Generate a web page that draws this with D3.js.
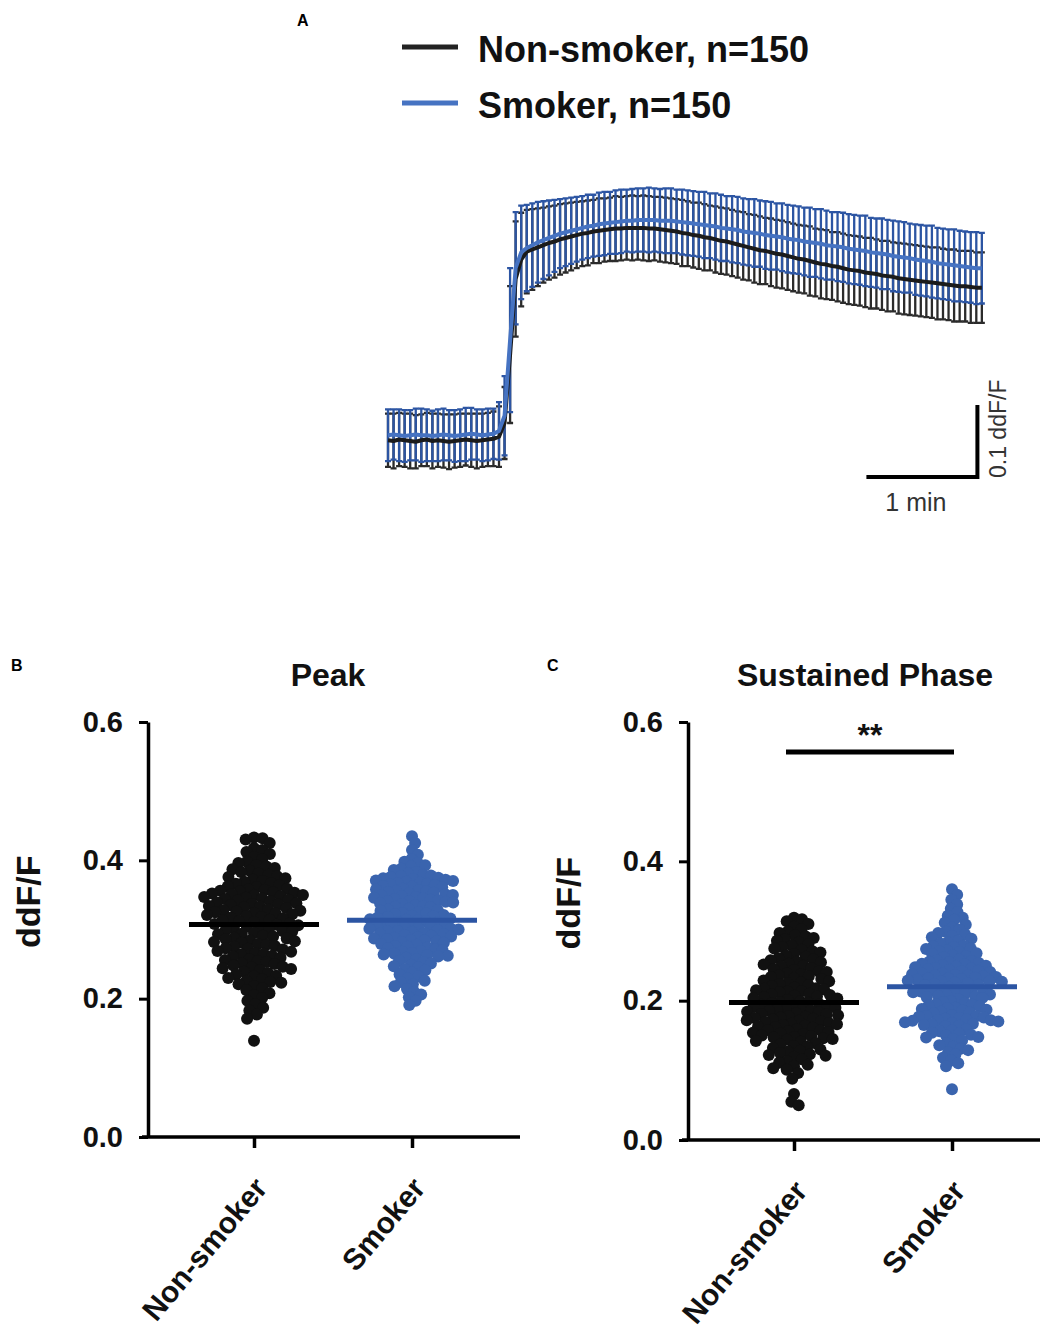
<!DOCTYPE html>
<html>
<head>
<meta charset="utf-8">
<script src="https://cdn.jsdelivr.net/npm/d3@7"></script>
<style>
  body { margin: 0; background: #fff; }
  svg { display: block; }
  text { font-family: "Liberation Sans", Arial, sans-serif; }
</style>
</head>
<body>
<svg id="chart" width="1048" height="1330"></svg>
<script>
// ---- data ----
const groups = ["Non-smoker", "Smoker"];
const seriesNames = ["Non-smoker, n=150", "Smoker, n=150"];
const frameSeconds = 3;
const yTicks = [0, 0.2, 0.4, 0.6];

const traceNonSmokerMean = [
  0.001, 0.000, 0.002, 0.001, 0.000, -0.001, 0.001, 0.002, 0.000, 0.001,
  0.000, -0.001, 0.000, 0.001, 0.002, 0.001, 0.000, 0.001, 0.002, 0.003,
  0.006,
  0.025, 0.120, 0.225, 0.252,
  0.263, 0.266, 0.269, 0.272, 0.275, 0.277, 0.280, 0.282, 0.284, 0.286,
  0.288, 0.289, 0.291, 0.292, 0.293, 0.294, 0.295, 0.295, 0.296, 0.296,
  0.296, 0.296, 0.295, 0.295, 0.294, 0.293, 0.292, 0.291, 0.289, 0.288,
  0.286, 0.285, 0.283, 0.282, 0.280, 0.278, 0.277, 0.275, 0.273, 0.271,
  0.269, 0.267, 0.265, 0.264, 0.262, 0.260, 0.259, 0.257, 0.255, 0.253,
  0.252, 0.250, 0.248, 0.246, 0.245, 0.243, 0.242, 0.240, 0.238, 0.237,
  0.236, 0.234, 0.233, 0.232, 0.230, 0.229, 0.228, 0.226, 0.225, 0.224,
  0.223, 0.222, 0.221, 0.220, 0.219, 0.218, 0.217, 0.216, 0.215, 0.215,
  0.214, 0.213, 0.213
];
const traceNonSmokerSem = [
  0.037, 0.038, 0.037, 0.037, 0.038, 0.037, 0.036, 0.037, 0.038, 0.037,
  0.037, 0.038, 0.037, 0.037, 0.036, 0.037, 0.038, 0.037, 0.037, 0.038,
  0.042,
  0.050, 0.095, 0.080, 0.065,
  0.058, 0.056, 0.054, 0.052, 0.051, 0.050, 0.049, 0.048, 0.047, 0.046,
  0.045, 0.045, 0.044, 0.045, 0.044, 0.044, 0.045, 0.044, 0.044, 0.045,
  0.044, 0.045, 0.045, 0.044, 0.045, 0.045, 0.045, 0.045, 0.046, 0.045,
  0.045, 0.046, 0.046, 0.045, 0.046, 0.046, 0.046, 0.046, 0.046, 0.047,
  0.046, 0.047, 0.047, 0.046, 0.047, 0.047, 0.047, 0.047, 0.047, 0.047,
  0.047, 0.048, 0.047, 0.048, 0.048, 0.047, 0.048, 0.048, 0.048, 0.048,
  0.048, 0.048, 0.049, 0.048, 0.048, 0.049, 0.048, 0.049, 0.049, 0.049,
  0.049, 0.049, 0.049, 0.049, 0.050, 0.049, 0.049, 0.050, 0.049, 0.049,
  0.050, 0.049, 0.049
];
const traceSmokerMean = [
  0.008, 0.009, 0.008, 0.007, 0.008, 0.009, 0.008, 0.008, 0.007, 0.008,
  0.009, 0.008, 0.007, 0.008, 0.009, 0.010, 0.009, 0.008, 0.009, 0.010,
  0.014,
  0.035, 0.140, 0.240, 0.262,
  0.268, 0.272, 0.276, 0.279, 0.282, 0.285, 0.288, 0.290, 0.292, 0.294,
  0.296, 0.298, 0.299, 0.301, 0.302, 0.303, 0.304, 0.305, 0.306, 0.306,
  0.307, 0.307, 0.307, 0.307, 0.306, 0.306, 0.306, 0.305, 0.304, 0.303,
  0.302, 0.301, 0.300, 0.299, 0.298, 0.296, 0.295, 0.294, 0.293, 0.291,
  0.290, 0.289, 0.288, 0.286, 0.285, 0.284, 0.283, 0.281, 0.280, 0.279,
  0.277, 0.276, 0.275, 0.274, 0.272, 0.271, 0.270, 0.269, 0.267, 0.266,
  0.265, 0.264, 0.262, 0.261, 0.260, 0.259, 0.257, 0.256, 0.255, 0.254,
  0.252, 0.251, 0.250, 0.249, 0.247, 0.246, 0.245, 0.244, 0.243, 0.242,
  0.241, 0.240, 0.240
];
const traceSmokerSem = [
  0.036, 0.035, 0.036, 0.036, 0.035, 0.036, 0.037, 0.036, 0.035, 0.036,
  0.036, 0.035, 0.036, 0.036, 0.037, 0.036, 0.035, 0.036, 0.036, 0.035,
  0.040,
  0.055, 0.100, 0.078, 0.065,
  0.060, 0.058, 0.056, 0.054, 0.052, 0.050, 0.048, 0.047, 0.046, 0.045,
  0.044, 0.044, 0.043, 0.044, 0.044, 0.043, 0.044, 0.044, 0.043, 0.044,
  0.044, 0.044, 0.045, 0.044, 0.044, 0.045, 0.045, 0.044, 0.045, 0.045,
  0.045, 0.045, 0.046, 0.045, 0.046, 0.046, 0.045, 0.046, 0.046, 0.046,
  0.046, 0.047, 0.046, 0.047, 0.047, 0.046, 0.047, 0.047, 0.047, 0.047,
  0.047, 0.048, 0.047, 0.048, 0.048, 0.047, 0.048, 0.048, 0.048, 0.048,
  0.048, 0.049, 0.048, 0.048, 0.049, 0.048, 0.049, 0.049, 0.049, 0.048,
  0.049, 0.049, 0.049, 0.050, 0.049, 0.049, 0.049, 0.050, 0.049, 0.049,
  0.049, 0.050, 0.049
];

const peakNonSmoker = [
  0.433, 0.432, 0.430, 0.425,
  0.418, 0.415, 0.412, 0.409, 0.405, 0.402,
  0.398, 0.396, 0.393, 0.391, 0.389, 0.387, 0.385, 0.383, 0.381,
  0.379, 0.377, 0.376, 0.374, 0.372, 0.370, 0.369, 0.367, 0.366, 0.364, 0.362, 0.361,
  0.359, 0.358, 0.357, 0.356, 0.355, 0.354, 0.353, 0.352, 0.351, 0.350, 0.349, 0.348, 0.347, 0.346, 0.345, 0.344, 0.343, 0.342, 0.341,
  0.339, 0.338, 0.337, 0.336, 0.335, 0.334, 0.333, 0.332, 0.331, 0.329, 0.328, 0.327, 0.326, 0.325, 0.324, 0.323, 0.322, 0.321,
  0.319, 0.318, 0.317, 0.316, 0.314, 0.313, 0.312, 0.311, 0.309, 0.308, 0.307, 0.306, 0.304, 0.303, 0.302, 0.301,
  0.299, 0.298, 0.297, 0.295, 0.294, 0.293, 0.291, 0.290, 0.288, 0.287, 0.286, 0.284, 0.283, 0.282, 0.281,
  0.279, 0.278, 0.276, 0.275, 0.273, 0.272, 0.271, 0.269, 0.268, 0.266, 0.265, 0.264, 0.262, 0.261,
  0.259, 0.257, 0.256, 0.254, 0.253, 0.251, 0.250, 0.248, 0.246, 0.245, 0.244, 0.243, 0.241,
  0.239, 0.237, 0.235, 0.233, 0.232, 0.230, 0.228, 0.226, 0.224, 0.223, 0.221,
  0.218, 0.215, 0.212, 0.208, 0.205, 0.201,
  0.197, 0.192, 0.187, 0.183,
  0.177, 0.171,
  0.139
];
const peakSmoker = [
  0.435, 0.425,
  0.415, 0.408, 0.402,
  0.398, 0.396, 0.393, 0.391, 0.388, 0.386, 0.383, 0.381,
  0.379, 0.378, 0.377, 0.376, 0.375, 0.374, 0.373, 0.372, 0.371, 0.370, 0.369, 0.368, 0.367, 0.366, 0.365, 0.364, 0.363, 0.362, 0.361,
  0.359, 0.358, 0.357, 0.356, 0.355, 0.354, 0.353, 0.352, 0.351, 0.350, 0.349, 0.348, 0.347, 0.346, 0.345, 0.344, 0.343, 0.342, 0.341, 0.341, 0.340,
  0.339, 0.338, 0.337, 0.335, 0.334, 0.333, 0.332, 0.330, 0.329, 0.328, 0.327, 0.325, 0.324, 0.323, 0.322, 0.321, 0.320,
  0.319, 0.318, 0.317, 0.316, 0.315, 0.314, 0.313, 0.312, 0.311, 0.310, 0.309, 0.308, 0.307, 0.306, 0.305, 0.304, 0.303, 0.302, 0.301, 0.301, 0.300,
  0.299, 0.298, 0.297, 0.296, 0.295, 0.294, 0.293, 0.292, 0.291, 0.290, 0.289, 0.288, 0.287, 0.286, 0.285, 0.284, 0.283, 0.282, 0.281,
  0.279, 0.278, 0.276, 0.275, 0.274, 0.273, 0.271, 0.270, 0.269, 0.268, 0.266, 0.265, 0.264, 0.263, 0.262, 0.261,
  0.259, 0.257, 0.255, 0.253, 0.251, 0.249, 0.247, 0.245, 0.243, 0.241,
  0.238, 0.235, 0.232, 0.229, 0.226, 0.224, 0.221,
  0.218, 0.214, 0.210, 0.206, 0.202,
  0.197, 0.191
];
const sustainedNonSmoker = [
  0.319, 0.317, 0.314, 0.310, 0.306, 0.302,
  0.299, 0.297, 0.294, 0.292, 0.290, 0.288, 0.286, 0.284, 0.281,
  0.279, 0.277, 0.275, 0.273, 0.271, 0.269, 0.267, 0.265, 0.263, 0.261,
  0.259, 0.258, 0.256, 0.255, 0.253, 0.252, 0.250, 0.249, 0.247, 0.245, 0.244, 0.242, 0.241,
  0.239, 0.238, 0.236, 0.235, 0.234, 0.232, 0.231, 0.229, 0.228, 0.226, 0.225, 0.224, 0.222, 0.221,
  0.219, 0.218, 0.217, 0.216, 0.215, 0.214, 0.213, 0.212, 0.210, 0.209, 0.208, 0.207, 0.206, 0.205, 0.204, 0.203, 0.201,
  0.199, 0.198, 0.197, 0.196, 0.195, 0.194, 0.193, 0.192, 0.191, 0.190, 0.189, 0.188, 0.187, 0.186, 0.185, 0.184, 0.183, 0.182, 0.181, 0.180,
  0.179, 0.178, 0.177, 0.176, 0.175, 0.174, 0.173, 0.172, 0.171, 0.170, 0.169, 0.168, 0.167, 0.166, 0.165, 0.164, 0.163, 0.162, 0.161,
  0.159, 0.158, 0.157, 0.156, 0.155, 0.154, 0.153, 0.152, 0.150, 0.149, 0.148, 0.147, 0.146, 0.145, 0.144, 0.142, 0.141,
  0.139, 0.137, 0.135, 0.134, 0.132, 0.130, 0.128, 0.127, 0.125, 0.123, 0.122, 0.121,
  0.119, 0.116, 0.113, 0.111, 0.108, 0.106, 0.103, 0.101,
  0.096, 0.088,
  0.066,
  0.055, 0.050
];
const sustainedSmoker = [
  0.360, 0.352, 0.345,
  0.338, 0.332, 0.327, 0.322,
  0.319, 0.316, 0.312, 0.309, 0.305, 0.302,
  0.299, 0.297, 0.295, 0.293, 0.291, 0.289, 0.286, 0.284, 0.282,
  0.279, 0.278, 0.277, 0.275, 0.274, 0.272, 0.271, 0.270, 0.268, 0.267, 0.265, 0.264, 0.262,
  0.259, 0.258, 0.257, 0.256, 0.255, 0.254, 0.253, 0.252, 0.251, 0.250, 0.249, 0.248, 0.247, 0.246, 0.245, 0.244, 0.243, 0.242, 0.241,
  0.239, 0.239, 0.238, 0.237, 0.236, 0.236, 0.235, 0.234, 0.233, 0.232, 0.232, 0.231, 0.230, 0.229, 0.228, 0.228, 0.227, 0.226, 0.225, 0.224, 0.223, 0.222,
  0.219, 0.218, 0.217, 0.216, 0.215, 0.214, 0.213, 0.212, 0.211, 0.210, 0.209, 0.208, 0.207, 0.206, 0.205, 0.204, 0.202,
  0.199, 0.198, 0.197, 0.195, 0.194, 0.193, 0.192, 0.190, 0.189, 0.188, 0.187, 0.186, 0.184, 0.183, 0.182,
  0.179, 0.178, 0.178, 0.177, 0.176, 0.175, 0.174, 0.173, 0.172, 0.172, 0.171, 0.170, 0.169, 0.168, 0.167, 0.166, 0.165, 0.164, 0.163,
  0.159, 0.157, 0.156, 0.154, 0.153, 0.151, 0.150, 0.148, 0.147, 0.145, 0.143,
  0.139, 0.136, 0.134, 0.131, 0.129, 0.126, 0.123,
  0.118, 0.114, 0.110, 0.106,
  0.073
];

// ---- colours ----
const black = "#111111";
const blueDot = "#3a64ae";
const blueBar = "#2c55a3";
const blueLine = "#4673c2";

const svg = d3.select("#chart");
const font = "'Liberation Sans', Arial, sans-serif";

// ================= Panel A: time course =================
const xA = d3.scaleLinear().domain([0, 1]).range([388, 499]);   // minutes
const yA = d3.scaleLinear().domain([0, 0.1]).range([441, 369]); // ddF/F

const traces = [
  { name: seriesNames[0], mean: traceNonSmokerMean, sem: traceNonSmokerSem, bar: "#2b2b2b", line: "#1b1b1b" },
  { name: seriesNames[1], mean: traceSmokerMean, sem: traceSmokerSem, bar: blueBar, line: blueLine }
];
traces.forEach(s => {
  s.points = s.mean.map((m, i) => ({ t: i * frameSeconds / 60, m, e: s.sem[i] }));
});

const gA = svg.append("g");
const cap = 3;

traces.forEach(s => {
  const bars = gA.append("g").attr("stroke", s.bar).attr("stroke-width", 2.3);
  bars.selectAll("path")
    .data(s.points)
    .enter()
    .append("path")
    .attr("fill", "none")
    .attr("d", d => {
      const x = xA(d.t), y1 = yA(d.m + d.e), y2 = yA(d.m - d.e);
      return `M${x},${y1}V${y2}M${x - cap},${y1}H${x + cap}M${x - cap},${y2}H${x + cap}`;
    });
});

const lineA = d3.line().x(d => xA(d.t)).y(d => yA(d.m));
traces.forEach(s => {
  gA.append("path")
    .datum(s.points)
    .attr("fill", "none")
    .attr("stroke", s.line)
    .attr("stroke-width", 4)
    .attr("stroke-linejoin", "round")
    .attr("d", lineA);
});

// legend
const legend = svg.append("g");
traces.forEach((s, i) => {
  const y = 47 + i * 56;
  legend.append("line")
    .attr("x1", 402).attr("x2", 458).attr("y1", y).attr("y2", y)
    .attr("stroke", i === 0 ? "#222" : blueLine).attr("stroke-width", 5);
  legend.append("text")
    .attr("x", 478).attr("y", y + 15)
    .attr("font-size", 36).attr("font-weight", "bold").attr("fill", "#111")
    .text(s.name);
});

// scale bar: 1 min, 0.1 ddF/F
const sbT = 4.31, sbV = -0.05;
gA.append("path")
  .attr("fill", "none").attr("stroke", "#000").attr("stroke-width", 4)
  .attr("d", `M${xA(sbT)},${yA(sbV)}H${xA(sbT + 1)}V${yA(sbV + 0.1)}`);
gA.append("text")
  .attr("x", (xA(sbT) + xA(sbT + 1)) / 2 - 6).attr("y", yA(sbV) + 34)
  .attr("text-anchor", "middle").attr("font-size", 25).attr("fill", "#333")
  .text("1 min");
gA.append("text")
  .attr("transform", `translate(${xA(sbT + 1) + 29},${yA(sbV) + 1}) rotate(-90)`)
  .attr("text-anchor", "start").attr("font-size", 23).attr("fill", "#333")
  .text("0.1 ddF/F");

// panel letters
const letters = [["A", 297, 26], ["B", 11, 671], ["C", 547, 671]];
svg.selectAll("text.letter")
  .data(letters)
  .enter()
  .append("text")
  .attr("class", "letter")
  .attr("x", d => d[1]).attr("y", d => d[2])
  .attr("font-size", 16).attr("font-weight", "bold")
  .text(d => d[0]);

// ================= Panels B, C: scatter =================
function beeswarm(values, y, dist) {
  const placed = [];
  values.slice().sort(d3.descending).forEach((v, k) => {
    const py = y(v);
    const near = placed.filter(p => Math.abs(p.y - py) < dist);
    const cands = [0];
    near.forEach(p => {
      const dx = Math.sqrt(dist * dist - (p.y - py) * (p.y - py));
      if (k % 2) cands.push(p.x + dx, p.x - dx);
      else cands.push(p.x - dx, p.x + dx);
    });
    cands.sort((a, b) => Math.abs(a) - Math.abs(b));
    const x = cands.find(c => near.every(p => (p.x - c) ** 2 + (p.y - py) ** 2 >= dist * dist - 0.01));
    placed.push({ v, x, y: py });
  });
  return placed;
}

function scatterPanel(opts) {
  const g = svg.append("g");
  const y = d3.scaleLinear().domain([0, 0.6]).range([opts.y0, 722]);
  const x = d3.scalePoint().domain(groups).range([opts.x0 + 106, opts.x0 + 264]);

  // y axis
  const yAxis = g.append("g")
    .attr("transform", `translate(${opts.x0},0)`)
    .call(d3.axisLeft(y).tickValues(yTicks).tickFormat(d3.format(".1f")).tickSize(9).tickSizeOuter(0));
  yAxis.select(".domain").attr("stroke", "#000").attr("stroke-width", 3.5);
  yAxis.selectAll(".tick line").attr("stroke", "#000").attr("stroke-width", 3);
  yAxis.selectAll(".tick text")
    .attr("x", -25)
    .attr("font-family", font).attr("font-size", 29).attr("font-weight", "bold").attr("fill", "#111");

  // x axis
  g.append("line")
    .attr("x1", opts.x0 - 6).attr("x2", opts.xEnd)
    .attr("y1", y(0)).attr("y2", y(0))
    .attr("stroke", "#000").attr("stroke-width", 3.5);
  const xAxis = g.append("g")
    .attr("transform", `translate(0,${y(0)})`)
    .call(d3.axisBottom(x).tickSize(11).tickSizeOuter(0));
  xAxis.select(".domain").remove();
  xAxis.selectAll(".tick line").attr("stroke", "#000").attr("stroke-width", 3.5);
  xAxis.selectAll(".tick text")
    .attr("y", 0).attr("dy", "0.71em")
    .attr("transform", "translate(-2,38) rotate(-50)")
    .attr("text-anchor", "end")
    .attr("font-family", font).attr("font-size", 30).attr("font-weight", "bold").attr("fill", "#111");

  // title and y label
  g.append("text")
    .attr("x", opts.titleX).attr("y", 686)
    .attr("text-anchor", "middle").attr("font-size", 32).attr("font-weight", "bold").attr("fill", "#111")
    .text(opts.title);
  g.append("text")
    .attr("transform", `translate(${opts.x0 - 108},${y(0.34)}) rotate(-90)`)
    .attr("text-anchor", "middle").attr("font-size", 34).attr("font-weight", "bold").attr("fill", "#111")
    .text("ddF/F");

  // dots and means
  opts.sets.forEach((vals, i) => {
    const cx = x(groups[i]);
    const col = i === 0 ? black : blueDot;
    const pts = beeswarm(vals, y, opts.spacing[i]);
    g.append("g").selectAll("circle")
      .data(pts)
      .enter()
      .append("circle")
      .attr("cx", d => cx + d.x)
      .attr("cy", d => d.y)
      .attr("r", 6)
      .attr("fill", col);
    const my = y(d3.mean(vals));
    g.append("line")
      .attr("x1", cx - 65).attr("x2", cx + 65)
      .attr("y1", my).attr("y2", my)
      .attr("stroke", i === 0 ? "#000" : blueBar).attr("stroke-width", 5);
  });

  if (opts.sig) {
    const by = 752;
    g.append("line")
      .attr("x1", x(groups[0]) - 8).attr("x2", x(groups[1]) + 2)
      .attr("y1", by).attr("y2", by)
      .attr("stroke", "#000").attr("stroke-width", 5);
    g.append("text")
      .attr("x", (x(groups[0]) + x(groups[1])) / 2 - 3).attr("y", by - 6)
      .attr("text-anchor", "middle").attr("font-size", 32).attr("font-weight", "bold").attr("fill", "#111")
      .text(opts.sig);
  }
}

scatterPanel({ x0: 148, xEnd: 520, y0: 1137, title: "Peak", titleX: 328,
  sets: [peakNonSmoker, peakSmoker], spacing: [8.6, 7.6] });
scatterPanel({ x0: 688, xEnd: 1040, y0: 1140, title: "Sustained Phase", titleX: 865,
  sets: [sustainedNonSmoker, sustainedSmoker], spacing: [8.1, 7.6], sig: "**" });
</script>
</body>
</html>
